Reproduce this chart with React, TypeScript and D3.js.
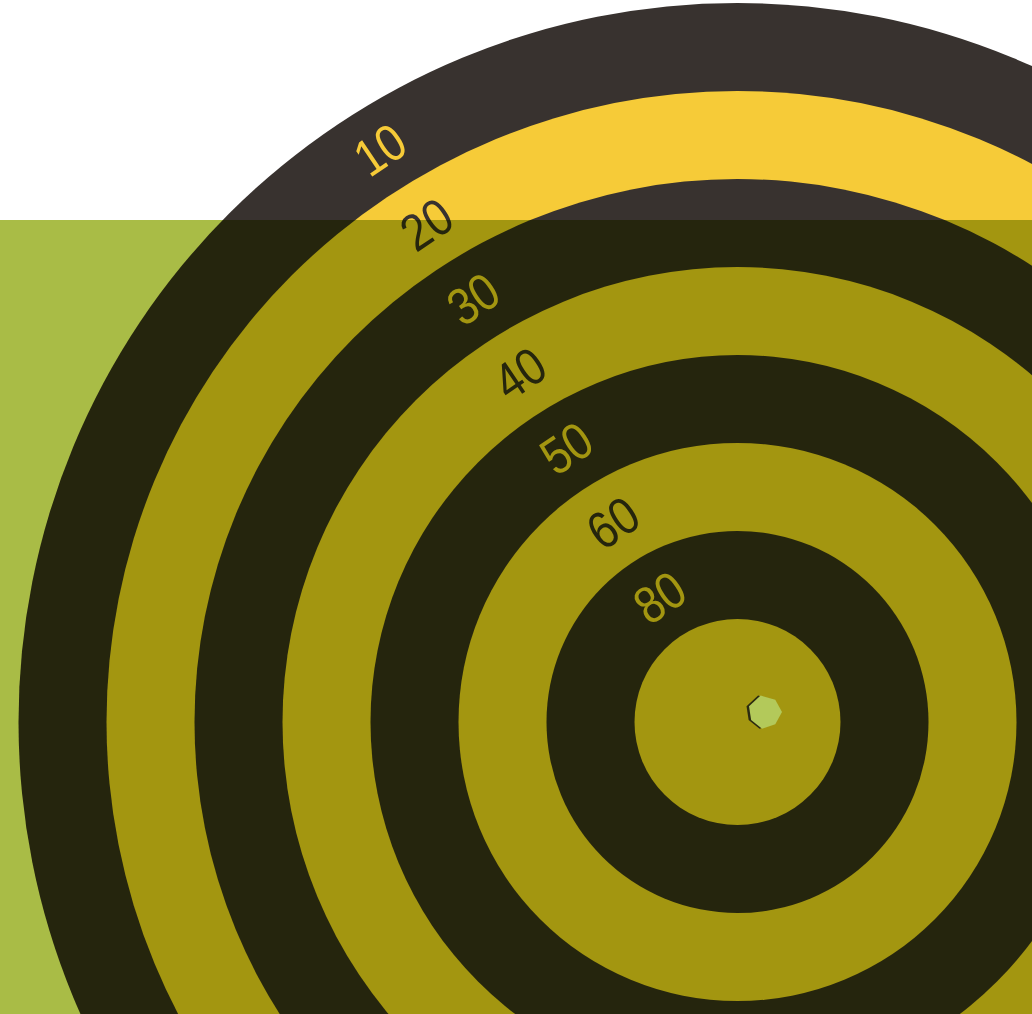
import React, { useEffect, useRef } from 'react';
import * as d3 from 'd3';

// ring labels, outermost first (the inner disk has no label)
const ringLabels = ['10', '20', '30', '40', '50', '60', '80'];
// ring index 0..7 (7 = inner disk)
const ringIndex = [0, 1, 2, 3, 4, 5, 6, 7];
// shape of the bullet hole, as angle (deg) / radius pairs
const holeAngles = [0, 50, 100, 150, 200, 255, 310];
const holeRadii = [17, 16, 17, 16, 17, 17, 16];

const W = 1032;
const H = 1014;

export default function App() {
  const svgRef = useRef<SVGSVGElement>(null);

  useEffect(() => {
    if (!svgRef.current) return;
    const svg = d3.select(svgRef.current);
    svg.selectAll('*').remove();

    const cx = 737.5;
    const cy = 722;
    const dark = '#38322f';
    const yellow = '#f6cb38';

    // radius of the outer edge of each ring
    const rScale = d3.scaleLinear().domain([0, 7]).range([719, 103]);

    svg.append('rect').attr('width', W).attr('height', H).style('fill', '#ffffff');

    const g = svg.append('g').attr('transform', `translate(${cx},${cy})`);

    g.selectAll('circle.ring')
      .data(ringIndex)
      .enter()
      .append('circle')
      .attr('class', 'ring')
      .attr('r', d => rScale(d))
      .style('fill', d => (d % 2 === 0 ? dark : yellow));

    // labels sit mid-ring along a ray tilted 32 degrees to the upper-left
    const ang = (-32 * Math.PI) / 180;
    g.selectAll('text.lbl')
      .data(ringLabels)
      .enter()
      .append('text')
      .attr('class', 'lbl')
      .attr('transform', (d, i) => {
        const r = (rScale(i) + rScale(i + 1)) / 2;
        const x = r * Math.sin(ang);
        const y = -r * Math.cos(ang);
        return `translate(${x},${y}) rotate(-34) scale(0.86,1)`;
      })
      .attr('text-anchor', 'middle')
      .attr('dominant-baseline', 'central')
      .style('font-family', 'Liberation Sans, Arial, sans-serif')
      .style('font-size', '52px')
      .style('fill', (d, i) => (i % 2 === 0 ? yellow : dark))
      .text(d => d);

    // green band laid over the lower part (multiplied)
    svg.append('rect')
      .attr('x', 0)
      .attr('y', 220)
      .attr('width', W)
      .attr('height', H - 220)
      .style('fill', '#a9bc46')
      .style('mix-blend-mode', 'multiply');

    // bullet hole
    const hx = 765;
    const hy = 712;
    const pts: [number, number][] = holeAngles.map((a, i) => [
      hx + holeRadii[i] * Math.cos((a * Math.PI) / 180),
      hy + holeRadii[i] * Math.sin((a * Math.PI) / 180)
    ]);
    const line = d3.line().curve(d3.curveLinearClosed);
    svg.append('path')
      .attr('d', line(pts.map(p => [p[0] - 2.5, p[1]]) as [number, number][]))
      .style('fill', '#2b2a10');
    svg.append('path')
      .attr('d', line(pts))
      .style('fill', '#b3c95a');
  }, []);

  return (
    <div style={{ position: 'fixed', left: 0, top: 0, width: W, height: H, overflow: 'hidden' }}>
      <svg ref={svgRef} width={W} height={H} style={{ display: 'block' }} />
    </div>
  );
}
